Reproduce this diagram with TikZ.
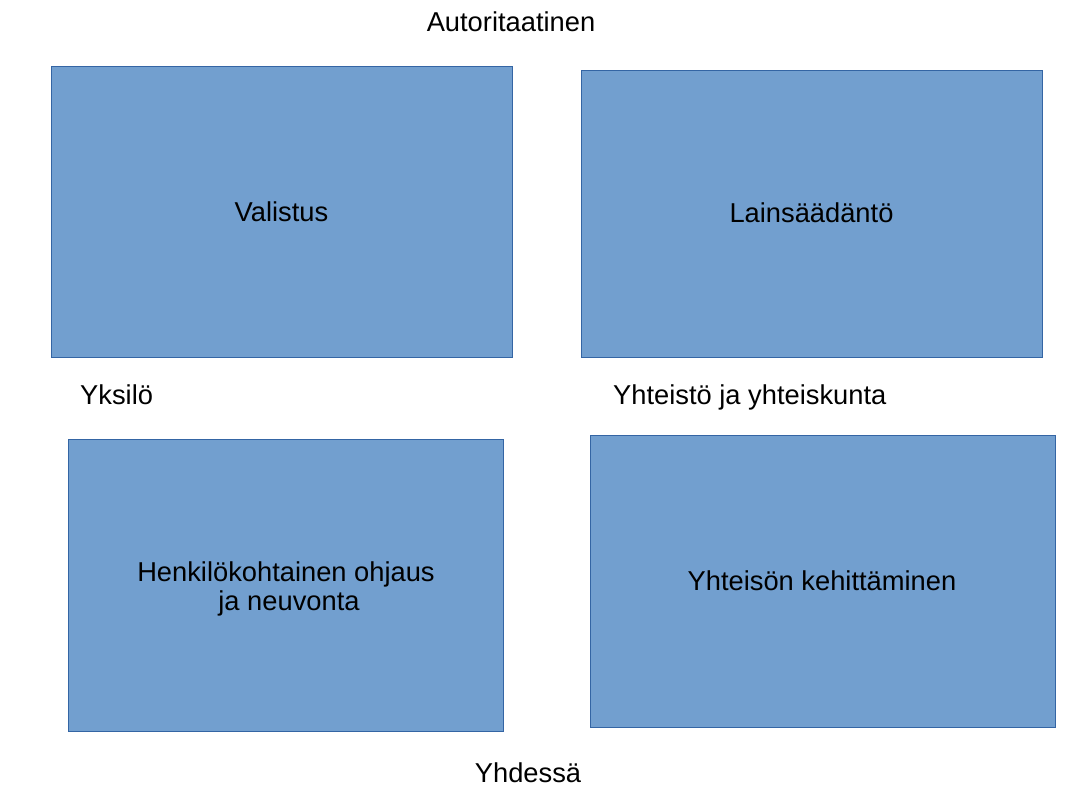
\documentclass[tikz,border=0pt]{standalone}
\usepackage{fontspec}
\setmainfont{Liberation Sans}
\definecolor{boxfill}{HTML}{729FCF}
\definecolor{boxline}{HTML}{3465A4}
\begin{document}
\begin{tikzpicture}[x=1pt,y=-1pt,
  box/.style={draw=boxline,fill=boxfill,line width=0.8pt},
  lbl/.style={font=\fontsize{27.3}{30}\selectfont,inner sep=0pt,anchor=base,text=black},
  lbll/.style={lbl,anchor=base west}]
\useasboundingbox (0,0) rectangle (1092,796);
\fill[white] (0,0) rectangle (1092,796);
\draw[box] (51,66) rectangle (512,357);
\draw[box] (581,70) rectangle (1042,357);
\draw[box] (68,439) rectangle (503,731);
\draw[box] (590,435) rectangle (1055,727);
\node[lbl] (aut) at (511,31) {Autoritaatinen};
\node[lbl] (val) at (281.5,221) {Valistus};
\node[lbl] (lain) at (811.5,222) {Lainsäädäntö};
\node[lbll] (yks) at (80,404) {Yksilö};
\node[lbll] (yht) at (613,404) {Yhteistö ja yhteiskunta};
\node[lbl] (henk1) at (286,581) {Henkilökohtainen ohjaus};
\node[lbl] (henk2) at (289,610) {ja neuvonta};
\node[lbl] (kehi) at (822,590) {Yhteisön kehittäminen};
\node[lbl] (yhd) at (528,782) {Yhdessä};
\end{tikzpicture}
\end{document}
